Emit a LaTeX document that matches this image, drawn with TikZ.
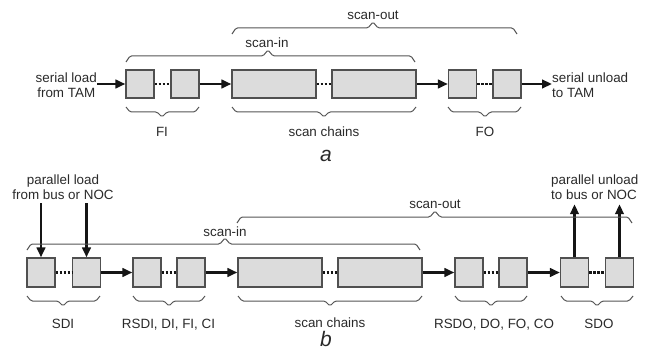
\documentclass[tikz,border=0pt]{standalone}
\usepackage{fontspec}
\setmainfont{Liberation Sans}
\usetikzlibrary{arrows.meta}
\definecolor{boxfill}{HTML}{DCDCDC}
\definecolor{boxline}{HTML}{505050}
\definecolor{ink}{HTML}{151515}
\definecolor{brcol}{HTML}{555555}
\definecolor{txt}{HTML}{2A2A2A}
\tikzset{
 reg/.style={draw=boxline, fill=boxfill, line width=1.2pt, minimum width=28pt, inner sep=0pt},
 longreg/.style={reg, minimum width=84pt},
 arr/.style={draw=ink, line width=2.7pt, -{Triangle[length=10pt,width=8.5pt]}},
 dotline/.style={draw=ink, line width=2.4pt, dash pattern=on 2.4pt off 1.6pt},
 brc/.style={draw=brcol, line width=1pt, rounded corners=1.5pt},
 lbl/.style={text=txt, font=\fontsize{13.4}{15.5}\selectfont, inner sep=0pt},
 figcap/.style={text=txt, font=\fontsize{21}{24}\selectfont\itshape, inner sep=0pt},
}
% top brace: x1 x2 xtip yends (y grows downwards)
\newcommand\mybracetop[4]{%
 \draw[brc] (#1,#4) -- (#1+4,#4-6) -- (#3-5,#4-6) -- (#3,#4-12) -- (#3+5,#4-6) -- (#2-4,#4-6) -- (#2,#4);}
% bottom brace: x1 x2 xtip yends
\newcommand\mybracebot[4]{%
 \draw[brc] (#1,#4) -- (#1+4,#4+5) -- (#3-5,#4+5) -- (#3,#4+10) -- (#3+5,#4+5) -- (#2-4,#4+5) -- (#2,#4);}
\begin{document}
\begin{tikzpicture}[x=1pt,y=-1pt]
\useasboundingbox[fill=white] (0,0) rectangle (645,350);

% ---------------- part a ----------------
\begin{scope}[every node/.append style={minimum height=28pt}]
\node[reg] (fi1) at (140,84) {};
\node[reg] (fi2) at (185,84) {};
\node[longreg] (sca1) at (274,84) {};
\node[longreg] (sca2) at (374,84) {};
\node[reg] (fo1) at (462.5,84) {};
\node[reg] (fo2) at (507,84) {};
\end{scope}
\node[lbl, align=center, anchor=north east] (inA) at (97,72.5) {serial load\\from TAM};
\node[lbl, align=left, anchor=north west] (outA) at (552,72.5) {serial unload\\to TAM};

\draw[arr] (inA.east |- fi1.west) -- (fi1.west);
\draw[dotline] (fi1.east) -- (fi2.west);
\draw[arr] (fi2.east) -- (sca1.west);
\draw[dotline] (sca1.east) -- (sca2.west);
\draw[arr] (sca2.east) -- (fo1.west);
\draw[dotline] (fo1.east) -- (fo2.west);
\draw[arr] (fo2.east) -- (outA.west |- fo2.east);

\mybracetop{126}{415}{268}{62}
\mybracetop{232}{517}{373}{34}
\mybracebot{126}{199}{162}{107}
\mybracebot{232}{416}{324}{107}
\mybracebot{448}{521}{485}{107}
\node[lbl, anchor=base] (lsiA) at (267,48) {scan-in};
\node[lbl, anchor=base] (lsoA) at (373,20) {scan-out};
\node[lbl, anchor=base] (lfi) at (162,137) {FI};
\node[lbl, anchor=base] (lscA) at (324,137) {scan chains};
\node[lbl, anchor=base] (lfo) at (485,137) {FO};
\node[figcap, anchor=base] (capa) at (326,161) {a};

% ---------------- part b ----------------
\begin{scope}[every node/.append style={minimum height=29pt}]
\node[reg] (sdi1) at (41,272.5) {};
\node[reg] (sdi2) at (86.5,272.5) {};
\node[reg] (rs1) at (147,272.5) {};
\node[reg] (rs2) at (191,272.5) {};
\node[longreg] (scb1) at (280,272.5) {};
\node[longreg] (scb2) at (380,272.5) {};
\node[reg] (ro1) at (469,272.5) {};
\node[reg] (ro2) at (513,272.5) {};
\node[reg] (so1) at (574.5,272.5) {};
\node[reg] (so2) at (619.5,272.5) {};
\end{scope}
\node[lbl, align=center, anchor=north] (plB) at (63,174.5) {parallel load\\from bus or NOC};
\node[lbl, align=left, anchor=north west] (puB) at (551,174.5) {parallel unload\\to bus or NOC};

\draw[arr, shorten <=3pt] (sdi1.north |- plB.south) -- (sdi1.north);
\draw[arr, shorten <=3pt] (sdi2.north |- plB.south) -- (sdi2.north);
\draw[dotline] (sdi1.east) -- (sdi2.west);
\draw[arr] (sdi2.east) -- (rs1.west);
\draw[dotline] (rs1.east) -- (rs2.west);
\draw[arr] (rs2.east) -- (scb1.west);
\draw[dotline] (scb1.east) -- (scb2.west);
\draw[arr] (scb2.east) -- (ro1.west);
\draw[dotline] (ro1.east) -- (ro2.west);
\draw[arr] (ro2.east) -- (so1.west);
\draw[dotline] (so1.east) -- (so2.west);
\draw[arr, shorten >=4pt] (so1.north) -- (so1.north |- puB.south);
\draw[arr, shorten >=4pt] (so2.north) -- (so2.north |- puB.south);

\mybracetop{27}{420}{225}{250}
\mybracetop{237}{632}{435}{223}
\mybracebot{27}{100}{63}{296}
\mybracebot{133}{205}{169}{296}
\mybracebot{238}{422}{330}{296}
\mybracebot{455}{527}{491}{296}
\mybracebot{561}{633}{597}{296}
\node[lbl, anchor=base] (lsiB) at (225,236) {scan-in};
\node[lbl, anchor=base] (lsoB) at (435,208) {scan-out};
\node[lbl, anchor=base] (lsdi) at (63,328) {SDI};
\node[lbl, anchor=base] (lrsdi) at (168.5,328) {RSDI, DI, FI, CI};
\node[lbl, anchor=base] (lscB) at (330,327) {scan chains};
\node[lbl, anchor=base] (lrsdo) at (494,328) {RSDO, DO, FO, CO};
\node[lbl, anchor=base] (lsdo) at (599,328) {SDO};
\node[figcap, anchor=base] (capb) at (326,346) {b};
\end{tikzpicture}
\end{document}
